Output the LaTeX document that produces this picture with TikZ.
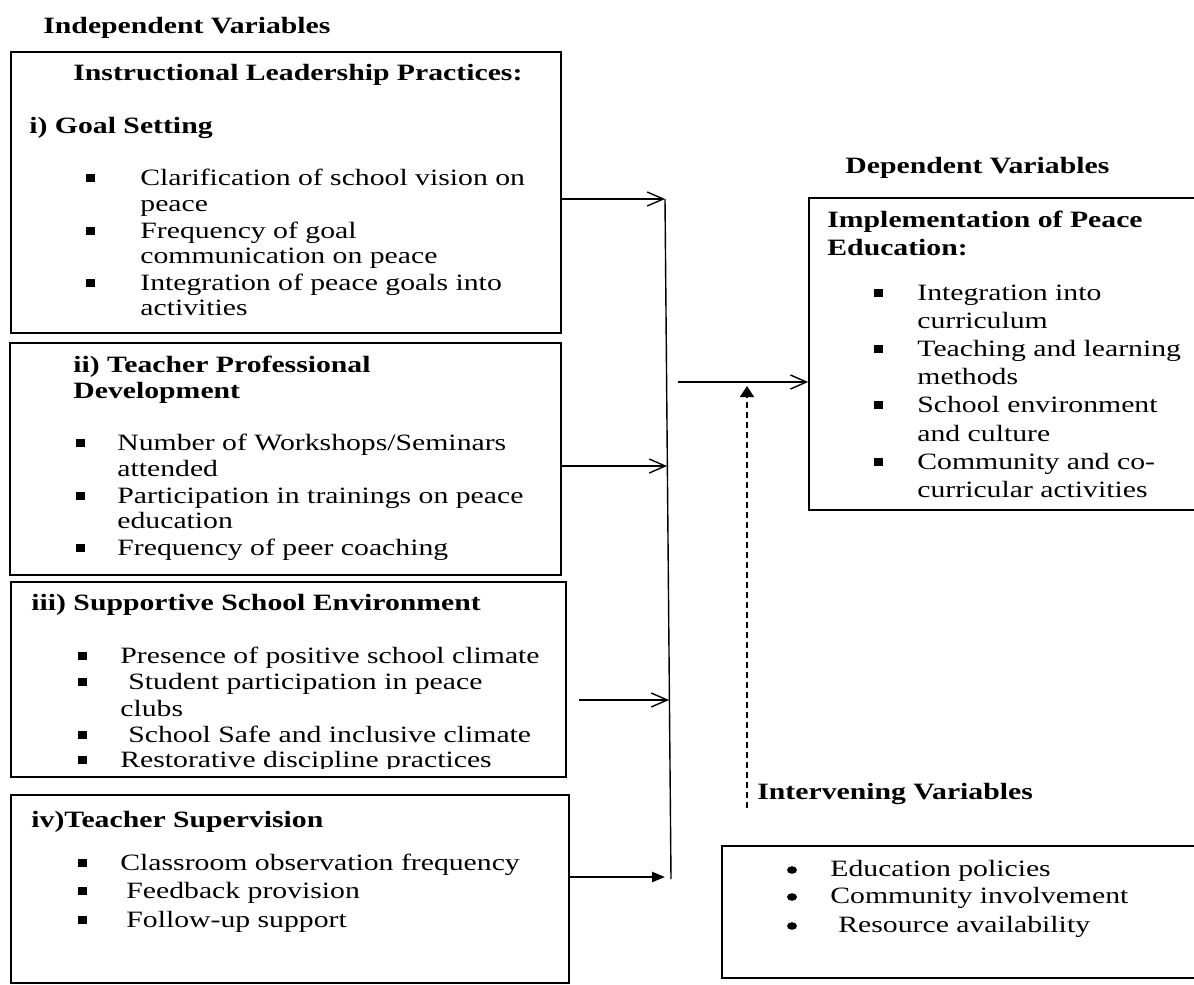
\documentclass[tikz,border=0pt]{standalone}
\usepackage{fontspec}
\setmainfont{Liberation Serif}[FakeStretch=1.27]
\usetikzlibrary{arrows.meta,fit}

\tikzset{
  box/.style={draw, line width=0.8pt, inner sep=0pt},
  ln/.style={anchor=base west, inner sep=0pt, font=\fontsize{11.7}{14}\selectfont},
  hd/.style={ln, font=\fontsize{11.7}{14}\selectfont\bfseries},
  flow/.style={line width=0.7pt, -{Straight Barb[length=8pt,width=7pt]}},
  heavy/.style={line width=1.2pt, -{Triangle[length=6.5pt,width=5pt]}},
}
% square bullet at (x, baseline)
\newcommand{\sqb}[2]{\fill (#1-4.5,#2-11) rectangle (#1+4.5,#2-3.5);}
% round bullet at (x, baseline)
\newcommand{\rdb}[2]{\fill (#1,#2-6) ellipse [x radius=2.5pt, y radius=1.9pt];}

\begin{document}
\begin{tikzpicture}[x=0.5pt, y=-0.5pt]
  \useasboundingbox (0,0) rectangle (1194,985);

  % boxes
  \node[box, fit={(11,52) (561,333)}] (goal) {};
  \node[box, fit={(10,343) (561,575)}] (tpd) {};
  \node[box, fit={(11,582) (566,777)}] (sse) {};
  \node[box, fit={(11,795) (569,983)}] (sup) {};
  \node[box, fit={(809,198) (1197,510)}] (impl) {};
  \node[box, fit={(722,846) (1197,978)}] (interv) {};

  % headings
  \node[hd] (indep) at (43,33) {Independent Variables};
  \node[hd] (dep) at (845,173) {Dependent Variables};
  \node[hd] (ivh) at (757,799) {Intervening Variables};
  \node[hd] (ilp) at (73,80) {Instructional Leadership Practices:};
  \node[hd] (gs) at (29,133) {i) Goal Setting};
  \node[hd] (tpd1) at (73,372) {ii) Teacher Professional};
  \node[hd] (tpd2) at (73,398) {Development};
  \node[hd] (sseh) at (31,610) {iii) Supportive School Environment};
  \node[hd] (suph) at (31,827) {iv)Teacher Supervision};
  \node[hd] (impl1) at (827,227) {Implementation of Peace};
  \node[hd] (impl2) at (827,255) {Education:};

  % goal setting
  \foreach \x/\y/\t/\b in {140/185/{Clarification of school vision on}/1,
      140/211/peace/0, 140/238/{Frequency of goal}/1,
      140/263/{communication on peace}/0, 140/290/{Integration of peace goals into}/1,
      140/315/activities/0}{
    \node[ln] (g-\y) at (\x,\y) {\t};
    \ifnum\b=1 \sqb{90}{\y}\fi
  }
  % professional development
  \foreach \x/\y/\t/\b in {117/450/{Number of Workshops/Seminars}/1,
      117/476/attended/0, 117/503/{Participation in trainings on peace}/1,
      117/528/education/0, 117/555/{Frequency of peer coaching}/1}{
    \node[ln] (p-\y) at (\x,\y) {\t};
    \ifnum\b=1 \sqb{80}{\y}\fi
  }
  % school environment
  \begin{scope}
    \clip (0,0) rectangle (1194,768);
    \foreach \x/\y/\t/\b in {120/663/{Presence of positive school climate}/1,
        128/689/{Student participation in peace}/1, 120/716/clubs/0,
        128/742/{School Safe and inclusive climate}/1,
        120/767/{Restorative discipline practices}/1}{
      \node[ln] (s-\y) at (\x,\y) {\t};
      \ifnum\b=1 \sqb{82}{\y}\fi
    }
  \end{scope}
  % supervision
  \foreach \x/\y/\t in {120/870/{Classroom observation frequency},
      126/898/{Feedback provision}, 126/927/{Follow-up support}}{
    \node[ln] (v-\y) at (\x,\y) {\t};
    \sqb{82}{\y}
  }
  % implementation
  \foreach \x/\y/\t/\b in {917/300/{Integration into}/1, 917/328/curriculum/0,
      917/356/{Teaching and learning}/1, 917/384/methods/0,
      917/412/{School environment}/1, 917/441/{and culture}/0,
      917/469/{Community and co-}/1, 917/497/{curricular activities}/0}{
    \node[ln] (d-\y) at (\x,\y) {\t};
    \ifnum\b=1 \sqb{878}{\y}\fi
  }
  % intervening
  \foreach \x/\y/\t in {830/876/{Education policies},
      830/903/{Community involvement}, 838/932/{Resource availability}}{
    \node[ln] (i-\y) at (\x,\y) {\t};
    \rdb{792}{\y}
  }

  % connectors
  \coordinate (bt) at (665,199);
  \coordinate (bb) at (671,879);
  \coordinate (b2) at (667,466);
  \coordinate (b3) at (669,700);
  \coordinate (b4) at (665,877);
  \coordinate (mid) at (678,382);
  \coordinate (dtop) at (747,386);
  \coordinate (dbot) at (747,808);
  \draw[line width=0.7pt] (bt) -- (bb);
  \draw[flow] (goal.east |- bt) -- (bt);
  \draw[flow] (tpd.east |- b2) -- (b2);
  \draw[flow] ([xshift=6pt]sse.east |- b3) -- (b3);
  \draw[heavy] (sup.east |- b4) -- (b4);
  \draw[flow] (mid) -- (mid -| impl.west);
  \draw[line width=0.7pt, dash pattern=on 3pt off 2pt,
        -{Triangle[length=5.5pt,width=7pt]}] (dbot) -- (dtop);
\end{tikzpicture}
\end{document}
